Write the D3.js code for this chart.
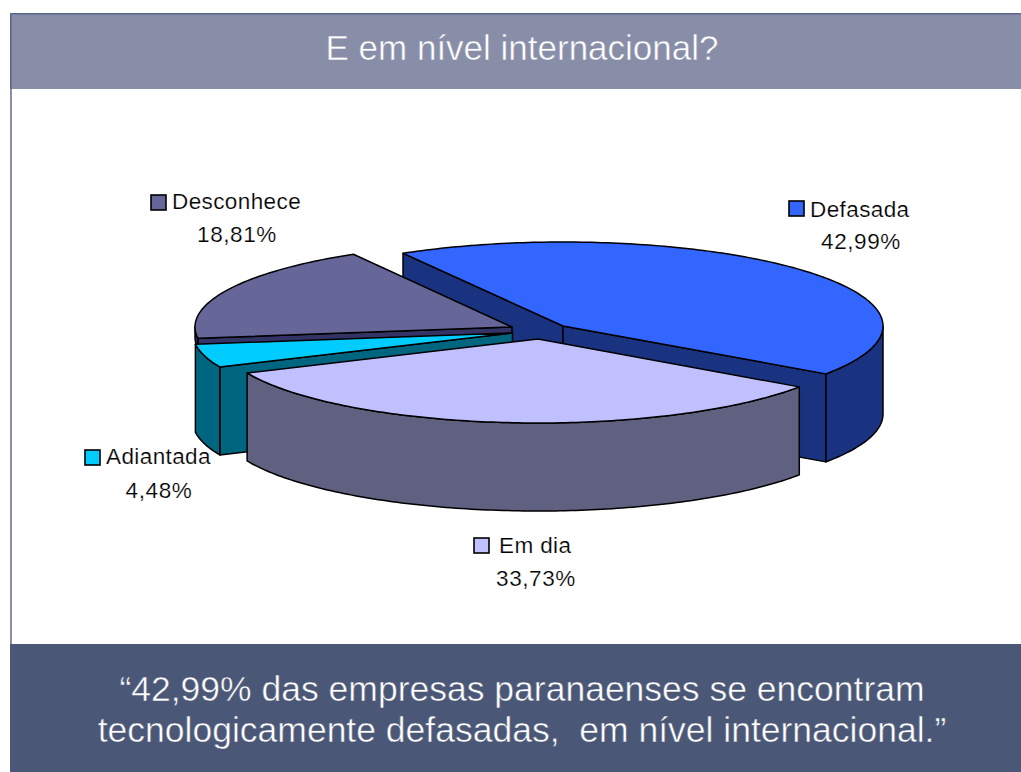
<!DOCTYPE html>
<html><head><meta charset="utf-8">
<script src="https://cdnjs.cloudflare.com/ajax/libs/d3/7.8.5/d3.min.js"></script>
<style>html,body{margin:0;padding:0;background:#fff;overflow:hidden}svg{display:block}text{font-family:"Liberation Sans",Arial,sans-serif}</style>
</head><body><svg id="c" width="1021" height="772"></svg>
<script>
const categories=["Defasada","Em dia","Adiantada","Desconhece"];
const values=[42.99,33.73,4.48,18.81];
const valueLabels=["42,99%","33,73%","4,48%","18,81%"];
const titleText="E em nível internacional?";
const footerLines=["“42,99% das empresas paranaenses se encontram","tecnologicamente defasadas,  em nível internacional.”"];
const topColors=["#3366ff","#c0c0ff","#00ccff","#666699"];
const sideColors=["#1a3380","#606080","#006680","#333366"];

const W=1021,H=772,RY=84,START=-30*Math.PI/180;
// exploded slice geometry, in page pixels
const apex=[[563,326],[538,339],[512.5,333],[512,327]];
const radii=[320,318,320,317];
const depths=[88,88,88,10];
// draw order back to front
const order=[0,3,2,1];
// labels: swatch top-left, name start, name baseline, value centre, value baseline
const labelPos=[
 {sx:789,sy:201,nx:810,ny:217,vx:861,vy:249},
 {sx:474,sy:538,nx:499,ny:553,vx:536,vy:586},
 {sx:85,sy:450,nx:106,ny:464,vx:159,vy:498},
 {sx:151,sy:195,nx:172,ny:209,vx:237,vy:242}];

const svg=d3.select("#c");
svg.append("rect").attr("width",W).attr("height",H).attr("fill","#fff");
svg.append("rect").attr("x",10).attr("y",13).attr("width",2).attr("height",640).attr("fill","#8a90ac");
svg.append("rect").attr("x",10).attr("y",13).attr("width",W-10).attr("height",76).attr("fill","#888ea8");
svg.append("rect").attr("x",10).attr("y",13).attr("width",W-10).attr("height",1.5).attr("fill","#5c6588");
svg.append("rect").attr("x",10).attr("y",13).attr("width",1.5).attr("height",76).attr("fill","#5c6588");
svg.append("rect").attr("x",10).attr("y",644).attr("width",W-10).attr("height",H-644).attr("fill","#4b5777");

svg.append("text").attr("x",522).attr("y",60).attr("text-anchor","middle").attr("fill","#fff")
 .attr("font-size",35).attr("stroke","#888ea8").attr("stroke-width",0.5).text(titleText);
svg.selectAll("text.f").data(footerLines).join("text").attr("class","f")
 .attr("x",522).attr("y",(d,i)=>[701,742][i]).attr("text-anchor","middle").attr("fill","#fff")
 .attr("font-size",35.5).attr("stroke","#4b5777").attr("stroke-width",0.5)
 .style("white-space","pre").text(d=>d);

const arcs=d3.pie().sort(null).startAngle(START).endAngle(START+2*Math.PI)(values);
const pt=(i,a,dz=0)=>[apex[i][0]+radii[i]*Math.sin(a),apex[i][1]-RY*Math.cos(a)+dz];
const line=d3.line();
const arcPts=(i,a0,a1,dz=0)=>{const n=Math.max(2,Math.ceil(Math.abs(a1-a0)*60));
  return d3.range(n+1).map(k=>pt(i,a0+(a1-a0)*k/n,dz));};
const down=(p,dz)=>[p[0],p[1]+dz];
const pie=svg.append("g").attr("stroke","#000").attr("stroke-width",1.5).attr("stroke-linejoin","round");

order.forEach(i=>{
  const s=arcs[i],a0=s.startAngle,a1=s.endAngle,c=apex[i],g=pie.append("g"),D=depths[i];
  const wall=(a)=>{const p=pt(i,a);
    g.append("path").attr("fill",sideColors[i])
     .attr("d",line([c,p,down(p,D),down(c,D)])+"Z");};
  // only the cut faces turned towards the viewer
  if(Math.sin(a0)<0) wall(a0);
  if(Math.sin(a1)>0) wall(a1);
  // outer wall: only the part facing the viewer
  const lo=Math.max(a0,Math.PI/2),hi=Math.min(a1,3*Math.PI/2);
  if(hi>lo){
    const t=arcPts(i,lo,hi),b=arcPts(i,hi,lo,D);
    g.append("path").attr("fill",sideColors[i]).attr("d",line(t.concat(b))+"Z");
  }
  g.append("path").attr("fill",topColors[i]).attr("d",line([c].concat(arcPts(i,a0,a1)))+"Z");
});

const lab=svg.append("g").attr("fill","#000").attr("font-size",22.5);
categories.forEach((n,i)=>{
  const p=labelPos[i];
  lab.append("rect").attr("x",p.sx).attr("y",p.sy).attr("width",15).attr("height",15)
    .attr("fill",topColors[i]).attr("stroke","#000").attr("stroke-width",1.6);
  lab.append("text").attr("x",p.nx).attr("y",p.ny).attr("letter-spacing",0.4)
    .attr("stroke","#fff").attr("stroke-width",0.2).text(n);
  lab.append("text").attr("x",p.vx).attr("y",p.vy).attr("text-anchor","middle").attr("letter-spacing",0.6)
    .attr("stroke","#fff").attr("stroke-width",0.2).text(valueLabels[i]);
});
</script></body></html>
